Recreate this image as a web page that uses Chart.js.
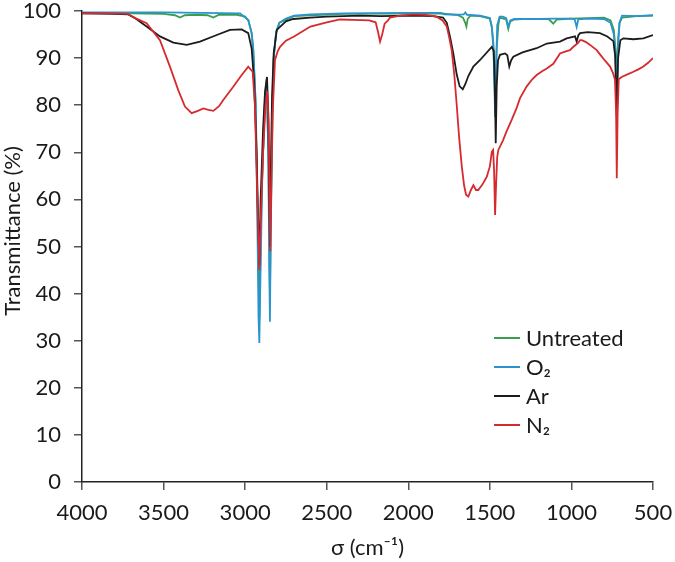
<!DOCTYPE html>
<html>
<head>
<meta charset="utf-8">
<script src="https://cdn.jsdelivr.net/npm/chart.js@4"></script>
<style>
  html, body { margin: 0; padding: 0; background: #fff; }
  #wrap { width: 675px; height: 562px; }
</style>
</head>
<body>
<div id="wrap"><canvas id="irChart"></canvas></div>
<script>
const FONT = "Lato, 'Open Sans', sans-serif";

const seriesLabels = ['Untreated', 'O\u2082', 'Ar', 'N\u2082'];
const seriesColors = ['#3a9e4f', '#2b94d0', '#1c1c1c', '#d62a2f'];

const xTicks = [4000, 3500, 3000, 2500, 2000, 1500, 1000, 500];
const yTicks = [0, 10, 20, 30, 40, 50, 60, 70, 80, 90, 100];

// wavenumber (cm-1) / transmittance (%)
const untreatedWn = [4000,3700,3500,3430,3400,3370,3300,3230,3195,3160,
  3050,3000,2980,2960,2950,2935,2920,2913,2900,2880,
  2868,2858,2848,2838,2825,2810,2790,2700,2400,1800,
  1700,1665,1652,1644,1636,1620,1560,1500,1488,1478,
  1468,1458,1448,1440,1400,1387,1375,1350,1300,1140,
  1111,1090,1000,900,800,760,740,730,722,714,
  705,690,600,500];
const untreatedT = [99.6,99.5,99.4,99.1,98.6,99.1,99.2,99.1,98.6,99.2,
  99.2,98.8,98.0,95.3,91.7,80,50,35,60,80,
  85,70,40,65,90,95.5,97.5,98.9,99.4,99.5,
  99.2,98.6,97.6,96.7,98.3,99.0,98.9,98.4,96.5,92,
  80,92,97,98.6,98.2,96.2,97.8,98.2,98.3,98.3,
  97.3,98.2,98.4,98.5,98.6,98.0,96,92,87,94,
  97.5,98.6,98.9,99.0];

const o2Wn = [4000,3500,3031,2981,2960,2950,2935,2925,2918,2913,
  2908,2895,2880,2868,2858,2852,2848,2844,2835,2825,
  2810,2790,2750,2700,2600,2400,2000,1800,1780,1700,
  1660,1650,1640,1560,1500,1488,1478,1472,1468,1462,
  1455,1440,1420,1400,1387,1375,1350,1315,1200,1111,
  1000,980,968,958,900,800,760,740,730,722,
  715,705,690,600,500];
const o2T = [99.7,99.7,99.5,98.1,95.3,91.7,80,55,35,29.5,
  40,65,80,85.5,70,45,34,50,78,90,
  95.5,97.5,98.4,99.0,99.3,99.5,99.6,99.6,99.3,99.2,
  99.3,99.7,99.2,99.0,98.5,96.7,93,85,77.5,88,
  97,98.8,98.8,98.5,96.6,98.0,98.3,98.3,98.3,98.4,
  98.4,98.2,96.6,98.2,98.4,98.3,97.5,95,90,82.7,
  92,97.5,99.0,98.9,99.1];

const arWn = [4000,3800,3720,3680,3604,3522,3440,3358,3277,3174,
  3093,3021,2981,2960,2945,2930,2920,2913,2905,2890,
  2878,2866,2858,2852,2848,2843,2835,2825,2806,2750,
  2705,2600,2500,2296,2173,1969,1850,1787,1764,1744,
  1724,1703,1685,1666,1650,1632,1601,1560,1488,1476,
  1470,1464,1458,1450,1438,1407,1393,1381,1370,1356,
  1300,1213,1151,1070,1029,978,968,958,947,900,
  825,780,743,732,722,714,700,682,620,559,500];
const arT = [99.5,99.4,99.3,98.6,96.7,94.6,93.3,92.8,93.5,94.9,
  96.0,96.1,95.3,92,85,70,55,46,60,75,
  83,86,78,60,50,65,82,91,96,97.8,
  98.3,98.6,98.8,99.0,98.9,99.0,98.9,98.6,97.5,94.5,
  91,86.5,84,83.4,84.5,86.2,88.2,89.6,92.4,91.5,
  85,71.9,84,89.5,90.7,91,90.6,88.2,89.5,90.3,
  91.2,92.1,93.1,93.5,94.2,94.6,93.5,94.8,95.3,95.5,
  95.3,94.6,93.6,90.5,77.2,90,93.8,94.2,94,94.2,94.9];

const n2Wn = [4000,3800,3720,3680,3604,3522,3461,3410,3369,3328,
  3290,3256,3225,3195,3160,3134,3073,3021,2981,2954,
  2940,2925,2913,2905,2890,2875,2864,2856,2850,2846,
  2840,2832,2817,2800,2786,2750,2700,2600,2500,2418,
  2340,2240,2200,2185,2173,2160,2145,2124,2112,2050,
  1969,1900,1826,1790,1764,1750,1734,1718,1703,1688,
  1672,1658,1646,1632,1616,1601,1585,1571,1545,1519,
  1500,1488,1480,1474,1468,1462,1455,1448,1420,1397,
  1365,1335,1315,1274,1240,1213,1180,1151,1111,1070,
  1030,1009,988,960,947,937,910,886,845,825,
  795,763,745,733,726,722,717,710,692,660,
  620,590,559,530,500];
const n2T = [99.5,99.5,99.4,98.6,97.4,93.8,88.2,83.2,79.7,78.3,
  78.8,79.3,79.0,78.8,79.8,81.1,83.9,86.4,88.2,87.1,
  80,60,45,55,70,80,83,76,58,49,
  62,78,89.6,91.5,92.4,93.7,94.6,96.7,97.6,98.2,
  98.1,98.0,97.6,95.5,93.5,95.0,97.3,98.0,98.6,99.0,
  99.3,99.2,98.8,98.0,96.7,94.5,91.7,86.5,80,73,
  67,63,61,60.6,62,63,62,62,63.2,64.8,
  67,70.1,70.5,66,56.7,63,69,70.5,72.5,74.5,
  77,79.5,81.5,84,85.5,86.4,87.2,87.8,88.8,91,
  91.5,91.7,92.4,93.2,93.8,93.8,93.4,92.8,91.7,90.8,
  89.5,88.2,86.8,85.4,78,64.5,78,85.5,86,86.5,
  87.1,87.6,88.2,89,90];

function toPoints(wn, t) {
  return wn.map((w, i) => ({ x: w, y: t[i] }));
}

const seriesData = [
  toPoints(untreatedWn, untreatedT),
  toPoints(o2Wn, o2T),
  toPoints(arWn, arT),
  toPoints(n2Wn, n2T)
];
// draw order: red on top, green at the bottom
const drawOrder = [3, 2, 1, 0];

const datasets = seriesLabels.map((label, i) => ({
  label,
  data: seriesData[i],
  borderColor: seriesColors[i],
  backgroundColor: seriesColors[i],
  borderWidth: 1.8,
  pointRadius: 0,
  tension: 0,
  order: drawOrder[i]
}));

// legend inside the plot, lower right
const insideLegend = {
  id: 'insideLegend',
  afterDraw(chart) {
    const ctx = chart.ctx;
    const x0 = 494, x1 = 520, tx = 526;
    const rows = [338, 367, 396, 425];
    ctx.save();
    ctx.font = `22px ${FONT}`;
    ctx.textBaseline = 'middle';
    ctx.textAlign = 'left';
    chart.data.datasets.forEach((ds, i) => {
      ctx.strokeStyle = ds.borderColor;
      ctx.lineWidth = 2;
      ctx.beginPath();
      ctx.moveTo(x0, rows[i]);
      ctx.lineTo(x1, rows[i]);
      ctx.stroke();
      ctx.fillStyle = '#1a1a1a';
      ctx.fillText(ds.label, tx, rows[i] + 1);
    });
    ctx.restore();
  }
};

// y axis title, sits a bit above the plot centre as in the original
const yTitle = {
  id: 'yTitle',
  afterDraw(chart) {
    const ctx = chart.ctx;
    ctx.save();
    ctx.translate(13, 231);
    ctx.rotate(-Math.PI / 2);
    ctx.font = `22px ${FONT}`;
    ctx.fillStyle = '#1a1a1a';
    ctx.textAlign = 'center';
    ctx.textBaseline = 'middle';
    ctx.fillText('Transmittance (%)', 0, 0);
    ctx.restore();
  }
};

new Chart(document.getElementById('irChart'), {
  type: 'line',
  data: { datasets },
  plugins: [insideLegend, yTitle],
  options: {
    responsive: true,
    maintainAspectRatio: false,
    animation: false,
    layout: { padding: { left: 0, right: 22, top: 11, bottom: 0 } },
    plugins: { legend: { display: false }, tooltip: { enabled: false } },
    scales: {
      x: {
        type: 'linear',
        reverse: true,
        min: 500,
        max: 4000,
        afterBuildTicks: s => { s.ticks = xTicks.map(v => ({ value: v })); },
        afterFit: s => { s.height = 80; s.paddingLeft = 0; s.paddingRight = 0; },
        ticks: {
          callback: v => String(v),
          font: { family: FONT, size: 22 },
          color: '#1a1a1a',
          padding: 10,
          maxRotation: 0
        },
        grid: { drawOnChartArea: false, drawTicks: true, tickLength: 8, color: '#555', lineWidth: 1.5 },
        border: { display: true, color: '#222', width: 1.5 },
        title: {
          display: true,
          text: '\u03c3 (cm\u207b\u00b9)',
          font: { family: FONT, size: 22 },
          color: '#1a1a1a',
          padding: { top: 0, bottom: 1 }
        }
      },
      y: {
        min: 0,
        max: 100,
        afterBuildTicks: s => { s.ticks = yTicks.map(v => ({ value: v })); },
        afterFit: s => { s.width = 82; s.paddingTop = 0; s.paddingBottom = 0; },
        ticks: {
          font: { family: FONT, size: 22 },
          color: '#1a1a1a',
          padding: 13
        },
        grid: { drawOnChartArea: false, drawTicks: true, tickLength: 8, color: '#555', lineWidth: 1.5 },
        border: { display: true, color: '#222', width: 1.5 }
      }
    }
  }
});
</script>
</body>
</html>
